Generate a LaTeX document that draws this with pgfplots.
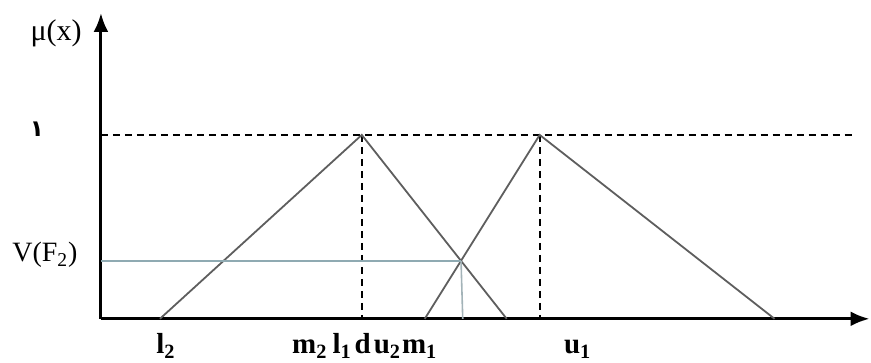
\documentclass[border=0pt]{standalone}
\usepackage{pgfplots}
\pgfplotsset{compat=1.18}
\usepackage{fontspec}
\setmainfont{Liberation Serif}
\newfontfamily\arabicfont[Script=Arabic]{DejaVu Sans Bold}
\usetikzlibrary{arrows.meta}

\definecolor{tri}{HTML}{5E5E5E}
\definecolor{vline}{HTML}{8FAAB2}
\definecolor{drop}{HTML}{A3B3B8}

\begin{document}
\begin{tikzpicture}
  \begin{axis}[
    x=0.5pt, y=92pt,
    xmin=0, xmax=769,
    ymin=0, ymax=1.663,
    axis lines=left,
    axis line style={line width=1.5pt},
    x axis line style={-{Latex[length=9.5pt,width=7.5pt]}},
    y axis line style={-{Latex[length=9.5pt,width=7.5pt]}},
    xtick={65,264,477},
    xticklabels={
      l\textsubscript{2},
      m\textsubscript{2}\hspace{2.5pt}l\textsubscript{1}\hspace{1.5pt}d\hspace{1.5pt}u\textsubscript{2}\hspace{0.5pt}m\textsubscript{1},
      u\textsubscript{1}},
    xticklabel style={font=\fontsize{14.5}{16}\selectfont\bfseries, anchor=base, inner sep=0pt, yshift=-17.5pt},
    ytick=\empty,
    major tick length=0pt,
    clip=false,
    ]
    % dashed guide lines
    \addplot [black, line width=1pt, dash pattern=on 3.5pt off 2.5pt] coordinates {(0,1) (752,1)};
    \addplot [black, line width=1pt, dash pattern=on 3.5pt off 2.5pt] coordinates {(261,1) (261,0)};
    \addplot [black, line width=1pt, dash pattern=on 3.5pt off 2.5pt] coordinates {(439,1) (439,0)};
    % triangular fuzzy numbers
    \addplot [tri, line width=0.9pt] coordinates {(59,0) (261,1) (406,0)};
    \addplot [tri, line width=0.9pt] coordinates {(324,0) (439,1) (674,0)};
    % degree of possibility
    \addplot [vline, line width=0.8pt] coordinates {(0,0.3154) (360.3,0.3154)};
    \addplot [drop, line width=0.8pt] coordinates {(360.3,0.3154) (362,0)};
    % labels
    \node [font=\fontsize{15}{17}\selectfont, anchor=base east, inner sep=0pt] at (axis cs:-19,1.511) {μ(x)};
    \node [font=\fontsize{11.5}{13}\selectfont\arabicfont, inner sep=0pt] at (axis cs:-64,1.03) {١};
    \node [font=\fontsize{14}{16}\selectfont, anchor=base east, inner sep=0pt] at (axis cs:-23,0.3098) {V(F\textsubscript{2})};
    % page frame
    \path (axis cs:-101,-0.2391) rectangle (axis cs:770,1.7337);
  \end{axis}
\end{tikzpicture}
\end{document}
